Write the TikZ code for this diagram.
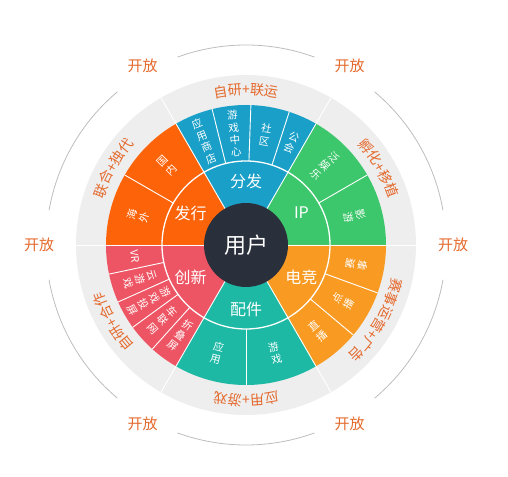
\documentclass[tikz,border=0pt]{standalone}
\usepackage{fontspec}
\setmainfont{Noto Sans CJK SC}
\usetikzlibrary{decorations.text}
\definecolor{cfenfa}{HTML}{1AA0C8}
\definecolor{cip}{HTML}{3DC76C}
\definecolor{cdj}{HTML}{F99B23}
\definecolor{cpj}{HTML}{1DB9A5}
\definecolor{ccx}{HTML}{EE5564}
\definecolor{cfx}{HTML}{FD640A}
\definecolor{cdark}{HTML}{2A303B}
\definecolor{ringgray}{HTML}{EEEEEE}
\definecolor{labor}{HTML}{E4692C}
\definecolor{arcgray}{HTML}{BDBDBD}
\tikzset{
  sublab/.style={text=white, align=center, inner sep=0pt, font=\fontsize{10.5}{12.5}\selectfont},
  mainlab/.style={text=white, inner sep=0pt, font=\fontsize{16}{18}\selectfont},
  openlab/.style={text=labor, inner sep=0pt, font=\fontsize{15}{17}\selectfont},
  sepline/.style={white, line width=0.9pt},
  ringtext/.style={decorate, decoration={text along path, text align=center, text color=labor, text={|\fontsize{14}{16}\selectfont|#1}}},
  outerarc/.style={arcgray, line width=0.8pt}
}
\begin{document}
\begin{tikzpicture}[x=1pt,y=1pt]
\useasboundingbox (0,0) rectangle (508,476);
\begin{scope}[shift={(246pt,231pt)}]
% gray ring
\fill[ringgray] (0,0) circle[radius=170pt];
% main sectors
\fill[cip]   (0,0) -- (0:140pt)   arc[start angle=0,end angle=60,radius=140pt] -- cycle;
\fill[cfenfa](0,0) -- (60:140pt)  arc[start angle=60,end angle=120,radius=140pt] -- cycle;
\fill[cfx]   (0,0) -- (120:140pt) arc[start angle=120,end angle=180,radius=140pt] -- cycle;
\fill[ccx]   (0,0) -- (180:140pt) arc[start angle=180,end angle=240,radius=140pt] -- cycle;
\fill[cpj]   (0,0) -- (240:140pt) arc[start angle=240,end angle=300,radius=140pt] -- cycle;
\fill[cdj]   (0,0) -- (300:140pt) arc[start angle=300,end angle=360,radius=140pt] -- cycle;
% main separators
\foreach \a in {0,60,...,300} \draw[sepline] (0,0) -- (\a:170pt);
% sub separators
\foreach \a in {150,72,88,104,30,-20,-40,270,192,204,216,228}
  \draw[sepline] (\a:84pt) -- (\a:140pt);
\draw[white, line width=1.3pt] (0,0) circle[radius=84pt];
% center
\fill[cdark] (0,0) circle[radius=42pt];
\node[text=white, inner sep=0pt, font=\fontsize{22}{24}\selectfont] (user) at (0,0) {用户};
% main labels
\node[mainlab] (fenfa) at (90:64pt)  {分发};
\node[mainlab] (ip)    at (30:64pt)  {IP};
\node[mainlab] (dj)    at (-30:64pt) {电竞};
\node[mainlab] (pj)    at (270:64pt) {配件};
\node[mainlab] (cx)    at (210:64pt) {创新};
\node[mainlab] (fx)    at (150:64pt) {发行};
% sub labels upper
\node[sublab, rotate=22]  (s1) at (112:112pt) {应\\用\\商\\店};
\node[sublab, rotate=6]   (s2) at (96:112pt)  {游\\戏\\中\\心};
\node[sublab, rotate=-10] (s3) at (80:112pt)  {社\\区};
\node[sublab, rotate=-24] (s4) at (66:112pt)  {公\\会};
\node[sublab, rotate=-45] (s5) at (45:112pt)  {泛\\娱\\乐};
\node[sublab, rotate=-75] (s6) at (15:112pt)  {影\\游};
\node[sublab, rotate=45]  (s7) at (135:112pt) {国\\内};
\node[sublab, rotate=75]  (s8) at (165:112pt) {海\\外};
% sub labels lower
\node[sublab, rotate=80]  (s9)  at (-10:112pt) {赛\\事};
\node[sublab, rotate=60]  (s10) at (-30:112pt) {点\\播};
\node[sublab, rotate=40]  (s11) at (-50:112pt) {直\\播};
\node[sublab, rotate=-15] (s12) at (255:112pt) {应\\用};
\node[sublab, rotate=15]  (s13) at (285:112pt) {游\\戏};
\node[sublab, rotate=-84] (s14) at (186:112pt) {VR};
\node[sublab, rotate=-72] (s15) at (198:112pt) {云\\游\\戏};
\node[sublab, rotate=-60] (s16) at (210:112pt) {游\\戏\\投\\屏};
\node[sublab, rotate=-48] (s17) at (222:112pt) {车\\联\\网};
\node[sublab, rotate=-36] (s18) at (234:112pt) {折\\叠\\屏};
% ring labels
\path[ringtext={自研+联运}] (120:150pt) arc[start angle=120,end angle=60,radius=150pt];
\path[ringtext={孵化+移植}] (60:150pt) arc[start angle=60,end angle=0,radius=150pt];
\path[ringtext={赛事运营+广告}] (0:150pt) arc[start angle=0,end angle=-60,radius=150pt];
\path[ringtext={应用+游戏}] (300:150pt) arc[start angle=300,end angle=240,radius=150pt];
\path[ringtext={自研+合作}] (240:150pt) arc[start angle=240,end angle=180,radius=150pt];
\path[ringtext={联合+独代}] (180:150pt) arc[start angle=180,end angle=120,radius=150pt];
% outer arcs
\foreach \a in {30,90,...,330}
  \draw[outerarc] (\a-20:200pt) arc[start angle=\a-20,end angle=\a+20,radius=200pt];
% open labels
\foreach \a/\n in {0/o0,60/o1,120/o2,180/o3,240/o4,300/o5}
  \node[openlab] (\n) at (\a:207pt) {开放};
\end{scope}
\end{tikzpicture}
\end{document}
